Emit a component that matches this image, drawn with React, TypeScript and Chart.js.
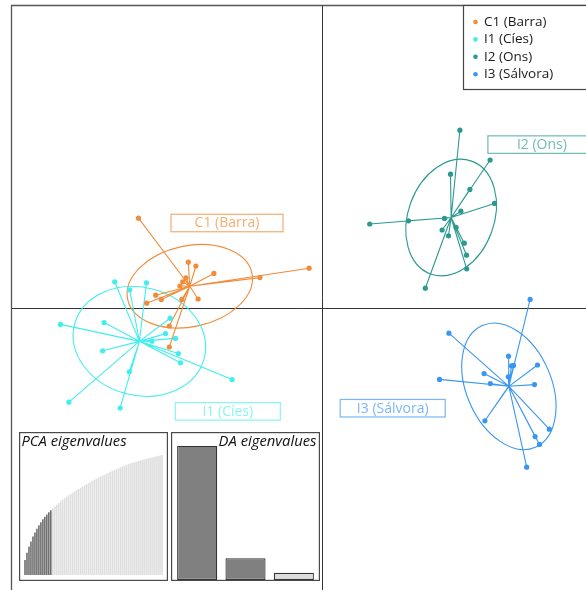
import React, { useEffect, useRef } from 'react';
import { Chart, registerables } from 'chart.js';
Chart.register(...registerables);

const FONT = '"Open Sans", "DejaVu Sans", sans-serif';

// ---------------- data ----------------
const groupNames = ['C1 (Barra)', 'I1 (Cíes)', 'I2 (Ons)', 'I3 (Sálvora)'];

// discriminant function scores (LD1, LD2) per individual
const c1X = [-9.19, -6.70, -6.32, -5.42, -0.66, -3.12, -6.82, -6.98, -7.12, -8.33, -8.05, -8.78, -6.21, -7.02, -7.65, -7.65];
const c1Y = [4.49, 2.29, 2.10, 1.73, 1.99, 1.52, 1.51, 1.31, 1.10, 0.64, 0.43, 0.24, 0.45, 0.43, -0.90, -1.95];

const i1X = [-10.38, -8.79, -9.63, -7.61, -7.84, -7.34, -8.52, -7.20, -7.09, -4.51, -13.09, -10.91, -10.98, -9.65, -12.67, -10.11];
const i1Y = [1.31, 1.26, 0.91, -0.51, -1.28, -1.52, -1.66, -2.28, -2.74, -3.58, -0.82, -0.73, -2.14, -3.19, -4.71, -5.00];

const i2X = [6.88, 8.39, 6.41, 7.38, 8.61, 6.93, 2.37, 4.31, 6.11, 6.69, 5.99, 6.31, 7.10, 7.21, 7.22, 5.15];
const i2Y = [8.89, 7.40, 6.69, 5.93, 5.23, 4.84, 4.20, 4.36, 4.48, 4.03, 3.90, 3.61, 3.24, 2.64, 1.96, 0.99];

const i3X = [10.39, 6.33, 9.31, 9.46, 9.56, 10.76, 8.09, 8.40, 5.86, 10.61, 9.30, 8.13, 11.35, 10.64, 10.86, 10.22];
const i3Y = [0.43, -1.26, -2.41, -2.89, -2.87, -2.85, -3.28, -3.78, -3.57, -3.83, -3.44, -5.64, -6.06, -6.43, -6.82, -7.96];

// inertia ellipses: semi-axes (LD units) and rotation (degrees)
const ellipseA = [3.175, 3.35, 3.0, 3.32];
const ellipseB = [2.025, 2.7, 2.15, 2.125];
const ellipseAngle = [12, -15, 70, -66.5];

// group label anchors (LD units)
const labelX = [-4.765, -4.725, 10.98, 3.52];
const labelY = [4.25, -5.17, 8.17, -5.01];

// PCA eigenvalues (cumulative % variance), first nRetainedPC retained
const nRetainedPC = 14;
const pcaCumVar = [
  12.5, 18.5, 23.5, 28.0, 32.0, 35.5, 38.5, 41.5, 44.0, 46.5, 48.5, 50.5, 52.3, 54.0,
  55.6, 57.1, 58.6, 60.0, 61.4, 62.7, 64.0, 65.2, 66.4, 67.5, 68.6, 69.7, 70.7, 71.7,
  72.7, 73.7, 74.7, 75.6, 76.5, 77.4, 78.5, 79.4, 80.3, 81.2, 82.0, 82.8, 83.6, 84.4,
  85.2, 86.0, 86.8, 87.5, 88.2, 88.9, 89.6, 90.3, 91.0, 91.7, 92.3, 92.9, 93.4, 93.9,
  94.4, 94.9, 95.4, 95.9, 96.4, 96.8, 97.2, 97.6, 98.0, 98.4, 98.8, 99.2, 99.6, 100.0,
];
const pcaLabels = pcaCumVar.map((_, i) => 'PC' + (i + 1));

// DA eigenvalues (relative), first nRetainedDA retained
const nRetainedDA = 2;
const daLabels = ['LD1', 'LD2', 'LD3'];
const daEigen = [100, 16.2, 5.4];

// ---------------- styles ----------------
const groupColors = ['#F08C3A', '#40EEEE', '#2B9990', '#3A96F0'];
const labelColors = ['rgba(240,140,58,0.72)', 'rgba(64,238,238,0.62)', 'rgba(43,153,144,0.68)', 'rgba(58,150,240,0.68)'];
const labelBoxW = [112, 105, 108, 105];
const labelBoxH = 17.5;

const X_MIN = -15.54, X_MAX = 13.185, Y_MIN = -14.1, Y_MAX = 15.125;

const groupsX = [c1X, i1X, i2X, i3X];
const groupsY = [c1Y, i1Y, i2Y, i3Y];

function mean(a: number[]) {
  return a.reduce((s, v) => s + v, 0) / a.length;
}

export default function App() {
  const mainRef = useRef<HTMLCanvasElement>(null);
  const pcaRef = useRef<HTMLCanvasElement>(null);
  const daRef = useRef<HTMLCanvasElement>(null);

  useEffect(() => {
    const charts: Chart[] = [];

    // ---------- main scatter ----------
    const datasets: any[] = [];
    groupsX.forEach((gx, i) => {
      const gy = groupsY[i];
      const cx = mean(gx), cy = mean(gy);
      const spokes: { x: number; y: number }[] = [];
      gx.forEach((x, k) => {
        spokes.push({ x: cx, y: cy });
        spokes.push({ x, y: gy[k] });
      });
      datasets.push({
        type: 'line',
        label: groupNames[i] + ' links',
        data: spokes,
        borderColor: groupColors[i],
        borderWidth: 1.1,
        pointRadius: 0,
        fill: false,
        tension: 0,
        borderJoinStyle: 'bevel',
        order: 2,
      });
      datasets.push({
        type: 'scatter',
        label: groupNames[i],
        data: gx.map((x, k) => ({ x, y: gy[k] })),
        backgroundColor: groupColors[i],
        borderWidth: 0,
        pointRadius: 2.6,
        order: 1,
      });
    });

    const mainDecor = {
      id: 'mainDecor',
      beforeDraw(chart: any) {
        const { ctx, width, height } = chart;
        ctx.save();
        ctx.fillStyle = '#fff';
        ctx.fillRect(0, 0, width, height);
        ctx.restore();
      },
      beforeDatasetsDraw(chart: any) {
        const { ctx, chartArea } = chart;
        const xs = chart.scales.x, ys = chart.scales.y;
        ctx.save();
        // zero axes
        ctx.strokeStyle = '#333';
        ctx.lineWidth = 1;
        const x0 = Math.round(xs.getPixelForValue(0)) + 0.5;
        const y0 = Math.round(ys.getPixelForValue(0)) + 0.5;
        ctx.beginPath();
        ctx.moveTo(x0, chartArea.top);
        ctx.lineTo(x0, chartArea.bottom);
        ctx.moveTo(chartArea.left, y0);
        ctx.lineTo(chartArea.right, y0);
        ctx.stroke();
        // ellipses
        groupsX.forEach((gx, i) => {
          const cx = xs.getPixelForValue(mean(gx));
          const cy = ys.getPixelForValue(mean(groupsY[i]));
          const rx = Math.abs(xs.getPixelForValue(ellipseA[i]) - xs.getPixelForValue(0));
          const ry = Math.abs(ys.getPixelForValue(ellipseB[i]) - ys.getPixelForValue(0));
          ctx.strokeStyle = groupColors[i];
          ctx.lineWidth = 1.1;
          ctx.beginPath();
          ctx.ellipse(cx, cy, rx, ry, (-ellipseAngle[i] * Math.PI) / 180, 0, Math.PI * 2);
          ctx.stroke();
        });
        ctx.restore();
      },
      afterDatasetsDraw(chart: any) {
        const { ctx } = chart;
        const xs = chart.scales.x, ys = chart.scales.y;
        ctx.save();
        ctx.font = `14px ${FONT}`;
        ctx.textAlign = 'center';
        ctx.textBaseline = 'middle';
        groupNames.forEach((name, i) => {
          const px = xs.getPixelForValue(labelX[i]);
          const py = ys.getPixelForValue(labelY[i]);
          const w = labelBoxW[i], h = labelBoxH;
          ctx.fillStyle = '#fff';
          ctx.fillRect(px - w / 2, py - h / 2, w, h);
          ctx.strokeStyle = labelColors[i];
          ctx.lineWidth = 1.2;
          ctx.strokeRect(px - w / 2, py - h / 2, w, h);
          ctx.fillStyle = labelColors[i];
          ctx.fillText(name, px, py + 0.5);
        });
        ctx.restore();
      },
      afterDraw(chart: any) {
        const { ctx, chartArea } = chart;
        ctx.save();
        // frame (left & top)
        ctx.strokeStyle = '#555';
        ctx.lineWidth = 1.3;
        ctx.beginPath();
        ctx.moveTo(chartArea.left, chartArea.bottom);
        ctx.lineTo(chartArea.left, chartArea.top);
        ctx.lineTo(chartArea.right, chartArea.top);
        ctx.stroke();
        // legend
        const lx = 463.5, ly = chartArea.top, lh = 84;
        ctx.fillStyle = '#fff';
        ctx.fillRect(lx, ly, chartArea.right - lx + 5, lh);
        ctx.strokeStyle = '#444';
        ctx.lineWidth = 1.2;
        ctx.strokeRect(lx, ly, chartArea.right - lx + 5, lh);
        ctx.font = `13.5px ${FONT}`;
        ctx.textBaseline = 'middle';
        ctx.textAlign = 'left';
        groupNames.forEach((name, i) => {
          const ry = 22 + i * 17.4;
          ctx.fillStyle = groupColors[i];
          ctx.beginPath();
          ctx.arc(475.5, ry, 2.3, 0, Math.PI * 2);
          ctx.fill();
          ctx.fillStyle = '#1a1a1a';
          ctx.fillText(name, 484, ry);
        });
        ctx.restore();
      },
    };

    if (mainRef.current) {
      charts.push(
        new Chart(mainRef.current, {
          type: 'scatter',
          data: { datasets },
          options: {
            responsive: false,
            animation: false,
            events: [],
            layout: { autoPadding: false, padding: { left: 11.5, top: 5.5, right: 0, bottom: 0 } },
            scales: {
              x: { type: 'linear', min: X_MIN, max: X_MAX, display: false },
              y: { type: 'linear', min: Y_MIN, max: Y_MAX, display: false },
            },
            plugins: { legend: { display: false }, tooltip: { enabled: false } },
          },
          plugins: [mainDecor],
        } as any)
      );
    }

    const insetFrame = (title: string, align: 'left' | 'right') => ({
      id: 'insetFrame',
      beforeDraw(chart: any) {
        const { ctx, width, height } = chart;
        ctx.save();
        ctx.fillStyle = '#fff';
        ctx.fillRect(0, 0, width, height);
        ctx.restore();
      },
      afterDraw(chart: any) {
        const { ctx, width, height } = chart;
        ctx.save();
        ctx.strokeStyle = '#4a4a4a';
        ctx.lineWidth = 1.2;
        ctx.strokeRect(0.6, 0.6, width - 1.2, height - 1.2);
        ctx.font = `italic 14.8px ${FONT}`;
        ctx.fillStyle = '#111';
        ctx.textBaseline = 'alphabetic';
        ctx.textAlign = align;
        ctx.fillText(title, align === 'left' ? 2.5 : width - 3.5, 13.5);
        ctx.restore();
      },
    });

    if (pcaRef.current) {
      charts.push(
        new Chart(pcaRef.current, {
          type: 'bar',
          data: {
            labels: pcaLabels,
            datasets: [
              {
                data: pcaCumVar,
                backgroundColor: pcaCumVar.map((_, i) => (i < nRetainedPC ? '#6e6e6e' : '#dedede')),
                borderWidth: 0,
                barPercentage: 0.8,
                categoryPercentage: 1,
              },
            ],
          },
          options: {
            responsive: false,
            animation: false,
            events: [],
            layout: { autoPadding: false, padding: { left: 5, right: 5, top: 23, bottom: 6 } },
            scales: {
              x: { display: false },
              y: { display: false, min: 0, max: 100 },
            },
            plugins: { legend: { display: false }, tooltip: { enabled: false } },
          },
          plugins: [insetFrame('PCA eigenvalues', 'left')],
        } as any)
      );
    }

    if (daRef.current) {
      charts.push(
        new Chart(daRef.current, {
          type: 'bar',
          data: {
            labels: daLabels,
            datasets: [
              {
                data: daEigen,
                backgroundColor: daEigen.map((_, i) => (i < nRetainedDA ? '#808080' : '#dcdcdc')),
                borderColor: '#333',
                borderWidth: 1.2,
                borderSkipped: false,
                barPercentage: 0.83,
                categoryPercentage: 1,
              },
            ],
          },
          options: {
            responsive: false,
            animation: false,
            events: [],
            layout: { autoPadding: false, padding: { left: 2, right: 2, top: 13.7, bottom: 1 } },
            scales: {
              x: { display: false },
              y: { display: false, min: 0, max: 100 },
            },
            plugins: { legend: { display: false }, tooltip: { enabled: false } },
          },
          plugins: [insetFrame('DA eigenvalues', 'right')],
        } as any)
      );
    }

    return () => charts.forEach((c) => c.destroy());
  }, []);

  return (
    <div style={{ position: 'absolute', left: 0, top: 0, width: 586, height: 590, overflow: 'hidden', background: '#fff' }}>
      <canvas ref={mainRef} width={586} height={590} style={{ position: 'absolute', left: 0, top: 0 }} />
      <canvas ref={pcaRef} width={149} height={149} style={{ position: 'absolute', left: 19, top: 432 }} />
      <canvas ref={daRef} width={149} height={149} style={{ position: 'absolute', left: 171, top: 432 }} />
    </div>
  );
}
